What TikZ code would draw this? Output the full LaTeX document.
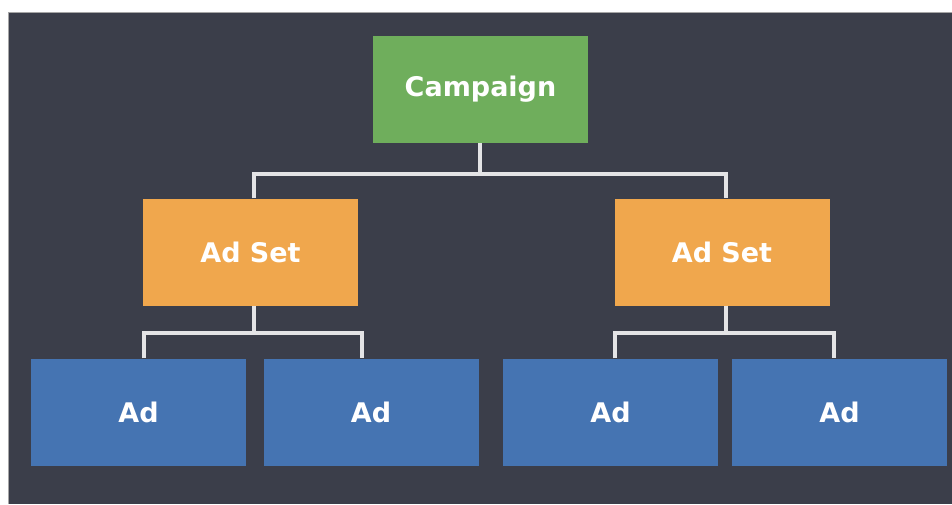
\documentclass[tikz,border=0pt]{standalone}
\usepackage{fontspec}
\setmainfont{DejaVu Sans}
\definecolor{bgdark}{HTML}{3B3E4A}
\definecolor{campgreen}{HTML}{6FAE5C}
\definecolor{setorange}{HTML}{F0A74D}
\definecolor{adblue}{HTML}{4574B2}
\definecolor{linegray}{HTML}{E4E4E6}
\begin{document}
\begin{tikzpicture}[x=1pt,y=-1pt,
  box/.style={minimum width=215pt,minimum height=107pt,inner sep=0pt,text=white,
    font=\fontsize{27}{31}\selectfont\bfseries},
  campbox/.style={box,fill=campgreen},
  setbox/.style={box,fill=setorange},
  adbox/.style={box,fill=adblue},
  conn/.style={draw=linegray,line width=4.5pt}]
\useasboundingbox (0,0) rectangle (952,504);
\fill[white] (0,0) rectangle (952,504);
\fill[bgdark] (8,12) rectangle (952,504);
\draw[gray!70,line width=1pt] (8,504) -- (8,12) -- (952,12);
% nodes
\node[campbox] (camp) at (480.5,89.5) {Campaign};
\node[setbox] (set1) at (250.5,252) {Ad Set};
\node[setbox] (set2) at (722,252) {Ad Set};
\node[adbox] (ad1) at (138.5,412) {Ad};
\node[adbox] (ad2) at (371,412) {Ad};
\node[adbox] (ad3) at (610.5,412) {Ad};
\node[adbox] (ad4) at (839.5,412) {Ad};
% junctions
\coordinate (j0) at (480,174);
\coordinate (j1) at (254,333);
\coordinate (j2) at (726,333);
% connectors
\draw[conn] (camp.south -| j0) -- (j0);
\draw[conn] (set1.north -| j1) |- (j0) -| (set2.north -| j2);
\draw[conn] (set1.south -| j1) -- (j1);
\draw[conn] ([xshift=5.5pt]ad1.north) |- (j1) -| ([xshift=-9pt]ad2.north);
\draw[conn] (set2.south -| j2) -- (j2);
\draw[conn] ([xshift=4.5pt]ad3.north) |- (j2) -| ([xshift=-5.5pt]ad4.north);
\end{tikzpicture}
\end{document}
